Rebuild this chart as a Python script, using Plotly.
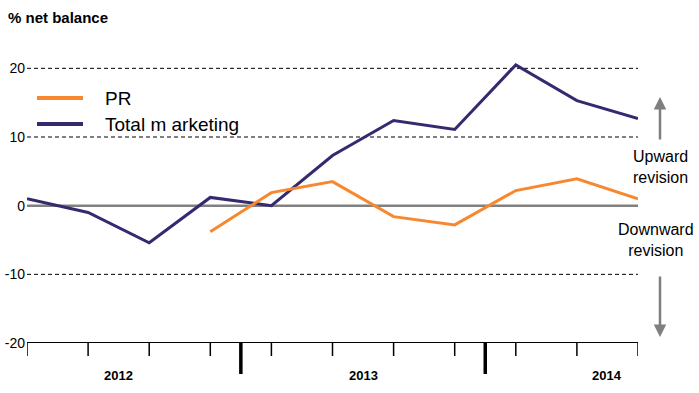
import plotly.graph_objects as go

quarters = list(range(11))
total_marketing = [1.0, -1.0, -5.4, 1.2, 0.0, 7.3, 12.4, 11.1, 20.5, 15.3, 12.7]
pr_x = [3, 4, 5, 6, 7, 8, 9, 10]
pr = [-3.8, 1.9, 3.5, -1.6, -2.8, 2.2, 3.9, 1.0]
year_labels = ["2012", "2013", "2014"]
year_pos = [1.5, 5.5, 9.5]
year_breaks = [3.5, 7.5]
y_ticks = [-20, -10, 0, 10, 20]

ORANGE = "#F7882F"
NAVY = "#35296F"
FONT = "Liberation Sans, Arial, sans-serif"

W, H = 699, 393
# plot area in page pixels: x 27..638, y 34..343
PL, PR_, PT, PB = 27, 638, 34, 343
l, t, r, b = PL, PT, W - PR_, H - PB
pw, ph = W - l - r, H - t - b


def px(xp):
    return (xp - l) / pw


def py(yp):
    return (H - b - yp) / ph


fig = go.Figure()
fig.add_trace(go.Scatter(x=quarters, y=total_marketing, mode="lines",
                         line=dict(color=NAVY, width=3), showlegend=False, cliponaxis=False,
                         hoverinfo="skip"))
fig.add_trace(go.Scatter(x=pr_x, y=pr, mode="lines",
                         line=dict(color=ORANGE, width=3), showlegend=False, cliponaxis=False,
                         hoverinfo="skip"))

shapes = []
for v in [20, 10, -10]:
    shapes.append(dict(type="line", xref="x", yref="y", x0=0, x1=10, y0=v, y1=v,
                       line=dict(color="black", width=1, dash="4px,3px"), layer="below"))
shapes.append(dict(type="line", xref="x", yref="y", x0=0, x1=10, y0=0, y1=0,
                   line=dict(color="#808080", width=2.5), layer="below"))
shapes.append(dict(type="line", xref="x", yref="y", x0=0, x1=10, y0=-20, y1=-20,
                   line=dict(color="black", width=2)))
for q in quarters:
    shapes.append(dict(type="line", xref="x", yref="paper", x0=q, x1=q, y0=0, y1=py(356),
                       line=dict(color="black", width=1.5)))
for bk in year_breaks:
    shapes.append(dict(type="line", xref="x", yref="paper", x0=bk, x1=bk, y0=0, y1=py(374),
                       line=dict(color="black", width=3.5)))
shapes.append(dict(type="line", xref="paper", yref="paper", x0=px(37), x1=px(83),
                   y0=py(98), y1=py(98), line=dict(color=ORANGE, width=4)))
shapes.append(dict(type="line", xref="paper", yref="paper", x0=px(37), x1=px(83),
                   y0=py(124), y1=py(124), line=dict(color=NAVY, width=4)))

annotations = []
for lab, p in zip(year_labels, year_pos):
    annotations.append(dict(x=p, y=py(375), xref="x", yref="paper", text="<b>" + lab + "</b>",
                            showarrow=False, font=dict(family=FONT, size=13, color="black"),
                            xanchor="center", yanchor="middle"))
annotations.append(dict(x=px(103), y=py(98), xref="paper", yref="paper", text="PR",
                        xanchor="left", yanchor="middle", showarrow=False,
                        font=dict(family=FONT, size=19, color="black")))
annotations.append(dict(x=px(103), y=py(124), xref="paper", yref="paper",
                        text="Total m arketing", xanchor="left", yanchor="middle",
                        showarrow=False, font=dict(family=FONT, size=19, color="black")))
annotations.append(dict(x=px(6), y=py(17), xref="paper", yref="paper",
                        text="<b>% net balance</b>", xanchor="left", yanchor="middle",
                        showarrow=False, font=dict(family=FONT, size=15, color="black")))
annotations.append(dict(x=px(660), y=py(97), xref="paper", yref="paper", ax=0, ay=44,
                        text="", showarrow=True, arrowhead=2, arrowsize=1.0, arrowwidth=2.5,
                        arrowcolor="#7F7F7F"))
annotations.append(dict(x=px(660), y=py(337), xref="paper", yref="paper", ax=0, ay=-62,
                        text="", showarrow=True, arrowhead=2, arrowsize=1.0, arrowwidth=2.5,
                        arrowcolor="#7F7F7F"))
annotations.append(dict(x=px(660), y=py(167), xref="paper", yref="paper",
                        text="Upward<br>revision", showarrow=False, align="center",
                        xanchor="center", yanchor="middle",
                        font=dict(family=FONT, size=16, color="black")))
annotations.append(dict(x=px(656), y=py(240), xref="paper", yref="paper",
                        text="Downward<br>revision", showarrow=False, align="center",
                        xanchor="center", yanchor="middle",
                        font=dict(family=FONT, size=16, color="black")))

fig.update_layout(
    width=W, height=H,
    margin=dict(l=l, r=r, t=t, b=b, autoexpand=False),
    paper_bgcolor="white", plot_bgcolor="white",
    hovermode=False,
    xaxis=dict(range=[0, 10], showgrid=False, zeroline=False, showticklabels=False,
               showline=False, ticks="", automargin=False, fixedrange=True),
    yaxis=dict(range=[-20, 25], showgrid=False, zeroline=False, tickvals=y_ticks,
               ticktext=[str(v) for v in y_ticks], ticks="", showline=False, automargin=False,
               fixedrange=True,
               tickfont=dict(family=FONT, size=14, color="black"), ticklabelstandoff=1),
    shapes=shapes,
    annotations=annotations,
)

fig.write_html("out.html", config={"displayModeBar": False},
               post_script="document.body.style.margin='0';")
